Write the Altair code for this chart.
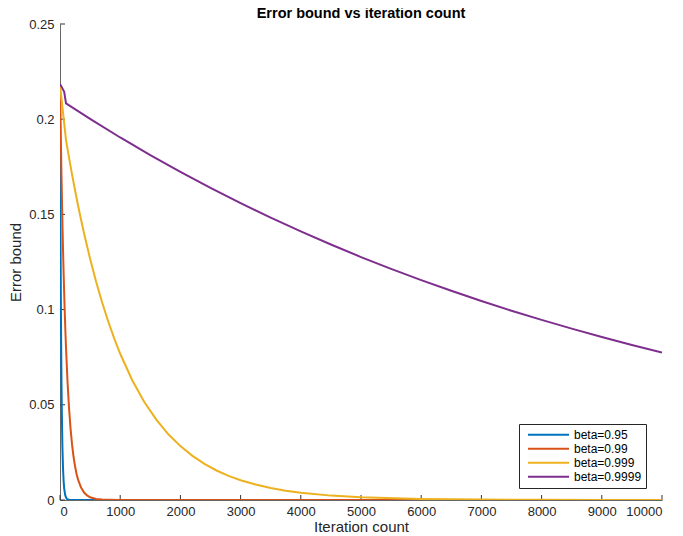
import altair as alt
import pandas as pd

title_text = "Error bound vs iteration count"
x_title = "Iteration count"
y_title = "Error bound"
series_names = ["beta=0.95", "beta=0.99", "beta=0.999", "beta=0.9999"]
series_colors = ["#0072BD", "#D95319", "#EDB120", "#7E2F8E"]

x_ticks = [0, 1000, 2000, 3000, 4000, 5000, 6000, 7000, 8000, 9000, 10000]
y_ticks = [0, 0.05, 0.1, 0.15, 0.2, 0.25]

# values
t_a = [0, 5, 10, 15, 20, 25, 30, 40, 50, 60, 70, 85, 100, 120, 150, 200, 10000]
y_a = [0.218, 0.1687, 0.1305, 0.101, 0.0781, 0.0605, 0.0468, 0.028, 0.0168, 0.010,
       0.006, 0.0028, 0.0013, 0.0004, 0.0001, 0.0, 0.0]

t_b = [0, 10, 25, 35, 50, 60, 75, 90, 100, 125, 150, 175, 200, 225, 250, 275, 300,
       350, 400, 450, 500, 600, 700, 800, 1000, 10000]
y_b = [0.218, 0.1972, 0.1696, 0.1533, 0.1319, 0.1193, 0.1026, 0.0882, 0.0798, 0.0621,
       0.0483, 0.0376, 0.0292, 0.0227, 0.0177, 0.0137, 0.0107, 0.0065, 0.0039, 0.0024,
       0.0014, 0.0005, 0.0002, 0.0001, 0.0, 0.0]

t_c = [0, 100, 150, 200, 250, 300, 350, 400, 500, 600, 700, 800, 900, 1000, 1200, 1400,
       1600, 1800, 2000, 2200, 2400, 2600, 2800, 3000, 3250, 3500, 3750, 4000, 4500,
       5000, 6000, 7000, 8000, 9000, 10000]
y_c = [0.218, 0.189, 0.1798, 0.171, 0.1627, 0.1547, 0.1472, 0.140, 0.1267, 0.1146,
       0.1037, 0.0939, 0.0849, 0.0768, 0.0629, 0.0515, 0.0422, 0.0345, 0.0283, 0.0232,
       0.0190, 0.0155, 0.0127, 0.0104, 0.0081, 0.0063, 0.0049, 0.0038, 0.0023, 0.0014,
       0.0005, 0.0002, 0.0001, 0.0, 0.0]

t_d = [0, 70, 100, 500, 1000, 1500, 2000, 2500, 3000, 3500, 4000, 4500, 5000, 5500,
       6000, 6500, 7000, 7500, 8000, 8500, 9000, 9500, 10000]
y_d = [0.2185, 0.2144, 0.2083, 0.2002, 0.1904, 0.1811, 0.1723, 0.1639, 0.1559, 0.1483,
       0.1411, 0.1342, 0.1276, 0.1214, 0.1155, 0.1099, 0.1045, 0.0994, 0.0946, 0.0900,
       0.0856, 0.0814, 0.0774]

series_t = [t_a, t_b, t_c, t_d]
series_y = [y_a, y_b, y_c, y_d]

rows = []
for i, (name, ts, ys) in enumerate(zip(series_names, series_t, series_y)):
    for t, y in zip(ts, ys):
        rows.append({"series": name, "order": i, "t": t, "y": y})
df = pd.DataFrame(rows)
xt = pd.DataFrame({"t": x_ticks})
yt = pd.DataFrame({"y": y_ticks})

W, H = 602, 476
FONT = "Liberation Sans"
TXT = "#262626"

x_scale = alt.Scale(domain=[0, 10000], nice=False, zero=False)
y_scale = alt.Scale(domain=[0, 0.25], nice=False, zero=False)

x_axis = alt.Axis(values=x_ticks, ticks=False, grid=False, format="d", title=x_title,
                  labelPadding=5, titleY=31, titleBaseline="alphabetic",
                  titleFontSize=15, titleFontWeight="normal")
y_axis = alt.Axis(values=y_ticks, ticks=False, grid=False, format="~g", title=y_title,
                  labelPadding=6, titleX=-40, titleY=H / 2, titleAngle=-90,
                  titleBaseline="alphabetic", titleFontSize=15,
                  titleFontWeight="normal")

lines = alt.Chart(df).mark_line(strokeWidth=2, clip=True).encode(
    x=alt.X("t:Q", scale=x_scale, axis=x_axis),
    y=alt.Y("y:Q", scale=y_scale, axis=y_axis),
    color=alt.Color(
        "series:N",
        scale=alt.Scale(domain=series_names, range=series_colors),
        sort=series_names,
        legend=alt.Legend(
            orient="none", legendX=459, legendY=400, title=None,
            symbolType="stroke", symbolSize=1681, symbolStrokeWidth=2,
            clipHeight=13.5, rowPadding=0, padding=4, symbolOffset=4,
            labelOffset=4, labelFontSize=12, labelFont=FONT, labelColor="#000",
            strokeColor="#262626", fillColor="white",
        ),
    ),
    order=alt.Order("t:Q"),
)

xticks_layer = alt.Chart(xt).mark_rule(color="#333", strokeWidth=1).encode(
    x=alt.X("t:Q", scale=x_scale, axis=x_axis),
    y=alt.value(H),
    y2=alt.value(H - 5),
)
yticks_layer = alt.Chart(yt).mark_rule(color="#333", strokeWidth=1).encode(
    y=alt.Y("y:Q", scale=y_scale, axis=y_axis),
    x=alt.value(0),
    x2=alt.value(5),
)

chart = alt.layer(xticks_layer, yticks_layer, lines).properties(
    width=W,
    height=H,
    title=alt.TitleParams(title_text, fontSize=14.5, fontWeight="bold", font=FONT,
                          anchor="middle", color="#000", offset=3, dy=17,
                          baseline="alphabetic"),
    autosize=alt.AutoSizeParams(type="none"),
    padding={"left": 52, "top": 16, "right": 13, "bottom": 36},
).configure(background="white").configure_view(stroke=None).configure_axis(
    domainColor="#666", domainWidth=1, grid=False,
    labelFont=FONT, labelFontSize=13, labelColor=TXT,
    titleFont=FONT, titleColor=TXT,
)

chart.save("out.html", embed_options={"renderer": "svg", "actions": False})
